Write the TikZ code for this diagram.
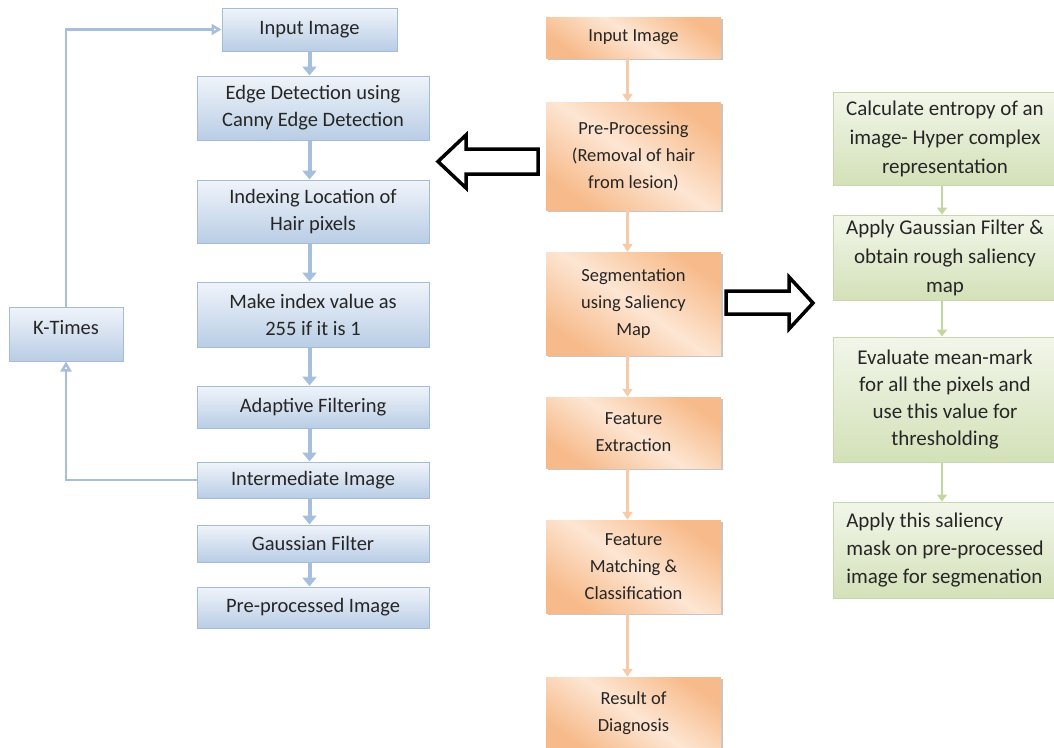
\documentclass[tikz,border=0pt]{standalone}
\usepackage{fontspec}
\setmainfont{Carlito}
\usetikzlibrary{arrows.meta,shadows}
\definecolor{bluetop}{HTML}{F0F4FA}
\definecolor{bluebot}{HTML}{B9CDE5}
\definecolor{blueline}{HTML}{A5BCD9}
\definecolor{bluearrow}{HTML}{A7BFDE}
\definecolor{orgdark}{HTML}{F7BA8A}
\definecolor{orglight}{HTML}{FDE6D3}
\definecolor{orgarrow}{HTML}{F8CBA8}
\definecolor{grntop}{HTML}{F2F6EA}
\definecolor{grnbot}{HTML}{D3E1B8}
\definecolor{grnline}{HTML}{C8D8AD}
\definecolor{grnarrow}{HTML}{C3D69B}
\definecolor{txt}{HTML}{262626}
\tikzset{
  bluebox/.style={draw=blueline, line width=1pt, top color=bluetop, bottom color=bluebot,
    inner sep=0pt, align=center, text=txt, font=\fontsize{20.5}{27}\selectfont},
  orgbox/.style={left color=orgdark, right color=orgdark, middle color=orglight, shading angle=-35,
    inner sep=0pt, align=center, text=txt, font=\fontsize{18.5}{27}\selectfont,
    drop shadow={shadow xshift=2pt, shadow yshift=-2pt, opacity=.45, fill=gray}},
  grnbox/.style={draw=grnline, line width=1pt, top color=grntop, bottom color=grnbot,
    inner sep=0pt, text=txt, font=\fontsize{21}{29}\selectfont},
  bluearr/.style={draw=bluearrow, line width=4pt, -{Triangle[width=14pt,length=9pt]}},
  looparr/.style={draw=bluearrow, line width=2.5pt, -{Triangle[open,width=11pt,length=10pt]}},
  orgarr/.style={draw=orgarrow, line width=2.5pt, -{Triangle[width=10pt,length=8pt]}},
  grnarr/.style={draw=grnarrow, line width=2.5pt, -{Triangle[width=10pt,length=7pt]}},
  blockarrow/.style={draw=black, line width=3.5pt, fill=white, line join=miter},
}
\begin{document}
\begin{tikzpicture}[x=1pt,y=-1pt]
\useasboundingbox (0,0) rectangle (1054,747);
% blue column
\node[bluebox, minimum width=175, minimum height=43] (bin) at (309.5,29.5) {Input Image};
\node[bluebox, minimum width=232, minimum height=64] (bedge) at (313,108) {Edge Detection using\\Canny Edge Detection};
\node[bluebox, minimum width=232, minimum height=63] (bidx) at (313,211.5) {Indexing Location of\\Hair pixels};
\node[bluebox, minimum width=232, minimum height=65] (bmake) at (313,314.5) {Make index value as\\255 if it is 1};
\node[bluebox, minimum width=232, minimum height=42] (badapt) at (313,407) {Adaptive Filtering};
\node[bluebox, minimum width=232, minimum height=36] (binter) at (313,480) {Intermediate Image};
\node[bluebox, minimum width=232, minimum height=37] (bgauss) at (313,543.5) {Gaussian Filter};
\node[bluebox, minimum width=232, minimum height=41] (bpre) at (313,607.5) {Pre-processed Image};
\node[bluebox, minimum width=114, minimum height=54, text depth=14pt] (bk) at (66,334) {K-Times};
\draw[bluearr] (bin.south) -- (bin.south |- bedge.north);
\draw[bluearr] (bin.south |- bedge.south) -- (bin.south |- bidx.north);
\draw[bluearr] (bin.south |- bidx.south) -- (bin.south |- bmake.north);
\draw[bluearr] (bin.south |- bmake.south) -- (bin.south |- badapt.north);
\draw[bluearr] (bin.south |- badapt.south) -- (bin.south |- binter.north);
\draw[bluearr] (bin.south |- binter.south) -- (bin.south |- bgauss.north);
\draw[bluearr] (bin.south |- bgauss.south) -- (bin.south |- bpre.north);
\draw[looparr] (binter.west) -| (bk.south);
\draw[looparr] (bk.north) |- (bin.west);
% orange column
\node[orgbox, minimum width=175, minimum height=41] (oin) at (633.5,37.5) {Input Image};
\node[orgbox, minimum width=175, minimum height=108] (opre) at (633.5,156) {Pre-Processing\\(Removal of hair\\from lesion)};
\node[orgbox, minimum width=175, minimum height=103] (oseg) at (633.5,303.5) {Segmentation\\using Saliency\\Map};
\node[orgbox, minimum width=175, minimum height=71] (ofeat) at (633.5,432.5) {Feature\\Extraction};
\node[orgbox, minimum width=175, minimum height=93] (omatch) at (633.5,566.5) {Feature\\Matching \&\\Classification};
\node[orgbox, minimum width=175, minimum height=73] (ores) at (633.5,713.5) {Result of\\Diagnosis};
\draw[orgarr] ([xshift=-6pt]oin.south) -- ([xshift=-6pt]opre.north);
\draw[orgarr] ([xshift=-6pt]opre.south) -- ([xshift=-6pt]oseg.north);
\draw[orgarr] ([xshift=-6pt]oseg.south) -- ([xshift=-6pt]ofeat.north);
\draw[orgarr] ([xshift=-6pt]ofeat.south) -- ([xshift=-6pt]omatch.north);
\draw[orgarr] ([xshift=-6pt]omatch.south) -- ([xshift=-6pt]ores.north);
% green column
\node[grnbox, align=center, minimum width=224, minimum height=93] (g1) at (945,138.5) {Calculate entropy of an\\image- Hyper complex\\representation};
\node[grnbox, align=center, minimum width=224, minimum height=85] (g2) at (945,257.5) {Apply Gaussian Filter \&\\obtain rough saliency\\map};
\node[grnbox, align=center, font=\fontsize{21}{27}\selectfont, minimum width=224, minimum height=125] (g3) at (945,399.5) {Evaluate mean-mark\\for all the pixels and\\use this value for\\thresholding};
\node[grnbox, align=left, font=\fontsize{21}{28}\selectfont, minimum width=224, minimum height=96] (g4) at (945,550) {Apply this saliency\\mask on pre-processed\\image for segmenation};
\draw[grnarr] ([xshift=-3pt]g1.south) -- ([xshift=-3pt]g2.north);
\draw[grnarr] ([xshift=-3pt]g2.south) -- ([xshift=-3pt]g3.north);
\draw[grnarr] ([xshift=-3pt]g3.south) -- ([xshift=-3pt]g4.north);
% block arrows
\draw[blockarrow] (438,161.5) -- (466,135) -- (466,149) -- (538,149) -- (538,174) -- (466,174) -- (466,188) -- cycle;
\draw[blockarrow] (813,303) -- (789,277) -- (789,291) -- (726,291) -- (726,314) -- (789,314) -- (789,329) -- cycle;
\end{tikzpicture}
\end{document}
